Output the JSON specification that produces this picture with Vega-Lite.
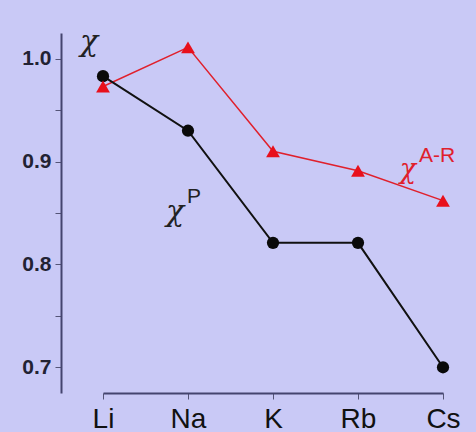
{
  "$schema": "https://vega.github.io/schema/vega-lite/v6.json",
  "autosize": "none",
  "padding": {"left": 61, "top": 33, "right": 0, "bottom": 39},
  "width": 415,
  "height": 360,
  "background": "#c9c9f6",
  "config": {"view": {"stroke": null}},
  "datasets": {
    "series": [
      {"el": "Li", "v": 0.983, "s": "P"},
      {"el": "Na", "v": 0.930, "s": "P"},
      {"el": "K", "v": 0.821, "s": "P"},
      {"el": "Rb", "v": 0.821, "s": "P"},
      {"el": "Cs", "v": 0.700, "s": "P"},
      {"el": "Li", "v": 0.973, "s": "AR"},
      {"el": "Na", "v": 1.011, "s": "AR"},
      {"el": "K", "v": 0.910, "s": "AR"},
      {"el": "Rb", "v": 0.891, "s": "AR"},
      {"el": "Cs", "v": 0.862, "s": "AR"}
    ],
    "chi": [
      {"el": "Li", "v": 1.0166, "t": "χ", "s": "axis"},
      {"el": "Na", "v": 0.851, "t": "χ", "s": "P"},
      {"el": "Cs", "v": 0.892, "t": "χ", "s": "AR"}
    ],
    "sup": [
      {"el": "Na", "v": 0.866, "t": "P", "s": "P"},
      {"el": "Cs", "v": 0.905, "t": "A-R", "s": "AR"}
    ]
  },
  "encoding": {
    "x": {
      "field": "el", "type": "nominal",
      "scale": {"type": "point", "domain": ["Li", "Na", "K", "Rb", "Cs"], "range": [42, 382], "padding": 0},
      "axis": {
        "title": null, "labelAngle": 0, "labelFont": "Liberation Sans", "labelFontSize": 28,
        "labelColor": "#111111", "labelPadding": 6, "tickSize": 6, "tickColor": "#555577",
        "domainColor": "#44446e", "domainWidth": 2, "grid": false, "labelBaseline": "top"
      }
    },
    "y": {
      "field": "v", "type": "quantitative",
      "scale": {"domain": [0.675, 1.025], "nice": false, "zero": false},
      "axis": {
        "title": null, "values": [0.7, 0.75, 0.8, 0.85, 0.9, 0.95, 1.0],
        "labelExpr": "(round(datum.value*100) % 10 == 0) ? format(datum.value, '.1f') : ''",
        "labelFont": "Liberation Sans", "labelFontWeight": "bold", "labelFontSize": 21,
        "labelColor": "#222233", "labelPadding": 4, "tickSize": 6, "tickColor": "#555577",
        "domainColor": "#44446e", "domainWidth": 2, "grid": false
      }
    }
  },
  "layer": [
    {
      "data": {"name": "series"},
      "transform": [{"filter": "datum.s == 'AR'"}],
      "mark": {"type": "line", "color": "#e0202c", "strokeWidth": 1.5}
    },
    {
      "data": {"name": "series"},
      "transform": [{"filter": "datum.s == 'P'"}],
      "mark": {"type": "line", "color": "#111111", "strokeWidth": 2}
    },
    {
      "data": {"name": "series"},
      "transform": [{"filter": "datum.s == 'P'"}],
      "mark": {"type": "point", "shape": "circle", "filled": true, "color": "#0a0a0a", "size": 150, "opacity": 1}
    },
    {
      "data": {"name": "series"},
      "transform": [{"filter": "datum.s == 'AR'"}],
      "mark": {"type": "point", "shape": "triangle-up", "filled": true, "color": "#e8101c", "size": 190, "opacity": 1}
    },
    {
      "data": {"name": "chi"},
      "transform": [{"filter": "datum.s == 'axis'"}],
      "mark": {"type": "text", "font": "DejaVu Serif", "fontStyle": "italic", "fontSize": 30, "color": "#222222", "dx": -14, "align": "center", "baseline": "middle"},
      "encoding": {"text": {"field": "t"}}
    },
    {
      "data": {"name": "chi"},
      "transform": [{"filter": "datum.s == 'P'"}],
      "mark": {"type": "text", "font": "DejaVu Serif", "fontStyle": "italic", "fontSize": 30, "color": "#222222", "dx": -13, "align": "center", "baseline": "middle"},
      "encoding": {"text": {"field": "t"}}
    },
    {
      "data": {"name": "chi"},
      "transform": [{"filter": "datum.s == 'AR'"}],
      "mark": {"type": "text", "font": "DejaVu Serif", "fontStyle": "italic", "fontSize": 27, "color": "#e0202c", "dx": -35, "align": "center", "baseline": "middle"},
      "encoding": {"text": {"field": "t"}}
    },
    {
      "data": {"name": "sup"},
      "transform": [{"filter": "datum.s == 'P'"}],
      "mark": {"type": "text", "font": "Liberation Sans", "fontSize": 21, "color": "#222222", "dx": 6, "align": "center", "baseline": "middle"},
      "encoding": {"text": {"field": "t"}}
    },
    {
      "data": {"name": "sup"},
      "transform": [{"filter": "datum.s == 'AR'"}],
      "mark": {"type": "text", "font": "Liberation Sans", "fontSize": 21, "color": "#e0202c", "dx": -6, "align": "center", "baseline": "middle"},
      "encoding": {"text": {"field": "t"}}
    }
  ]
}
